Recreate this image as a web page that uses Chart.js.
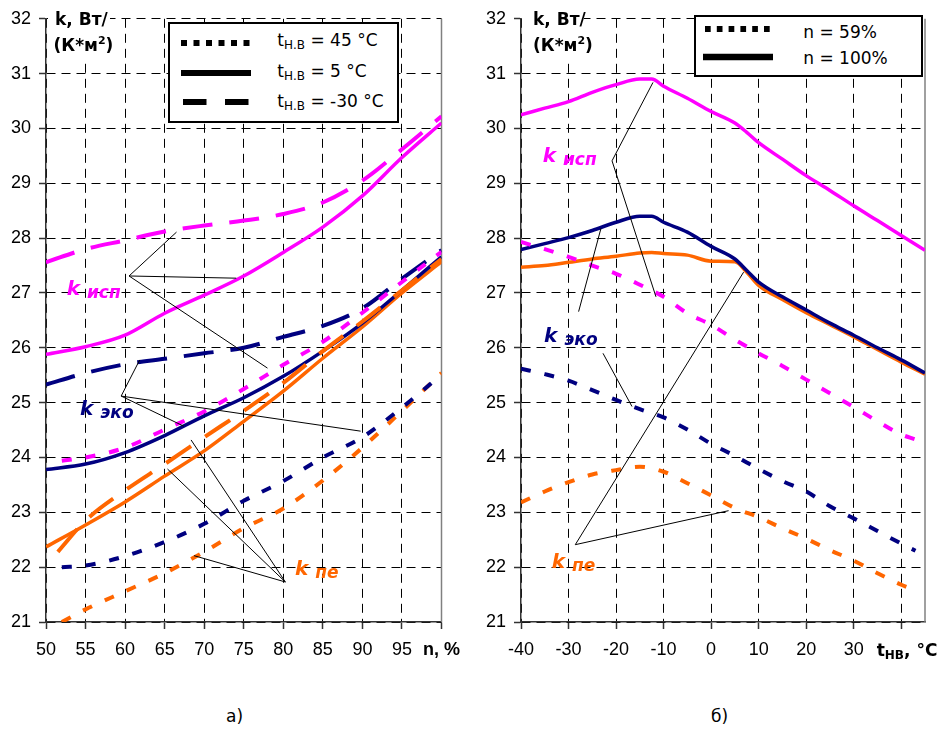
<!DOCTYPE html>
<html>
<head>
<meta charset="utf-8">
<script src="https://cdn.jsdelivr.net/npm/chart.js@4.4.0/dist/chart.umd.min.js"></script>
<style>
  html, body { margin: 0; padding: 0; background: #fff; }
  #page { position: relative; width: 941px; height: 733px; overflow: hidden;
          font-family: "DejaVu Sans", "Liberation Sans", Arial, sans-serif; color: #000; }
  canvas { position: absolute; top: 0; }
  .txt { position: absolute; white-space: nowrap; line-height: 1; }
  .sub { font-size: 12px; vertical-align: -3px; line-height: 0; }
  .sup { font-size: 11px; vertical-align: 7px; line-height: 0; }
  .ksub { font-size: 17px; vertical-align: -3px; line-height: 0; }
  .mask { position: absolute; background: #fff; }
  .legend { position: absolute; border: 2px solid #000; background: #fff; box-sizing: border-box; }
</style>
</head>
<body>
<div id="page">
  <canvas id="chartA" width="470" height="680" style="left:0"></canvas>
  <canvas id="chartB" width="471" height="680" style="left:470px"></canvas>
</div>
<script>
const FONT = '"Liberation Sans", Arial, sans-serif';
const MAGENTA = '#ff00ff', NAVY = '#000080', ORANGE = '#ff6600';
const DOT = [10, 14], DASH = [30, 17];

// --- panel a: k versus load n, %, at three outdoor temperatures ---
const nFull = [50, 55, 60, 65, 70, 75, 80, 85, 90, 95, 100];
const nDot = [52, 55, 60, 65, 70, 75, 80, 85, 90, 95, 100];
const nPeCold = [51.5, 55, 60, 65, 70, 75, 80, 85, 90, 95, 100];

// t = 45 °C (dotted)
const kIspHot = [23.94, 24.0, 24.18, 24.51, 24.84, 25.25, 25.69, 26.11, 26.64, 27.2, 27.75];
const kEkoHot = [22.0, 22.03, 22.2, 22.46, 22.79, 23.21, 23.57, 24.0, 24.37, 24.91, 25.51];
const kPeHot = [21.0, 21.23, 21.56, 21.89, 22.28, 22.71, 23.07, 23.58, 24.18, 24.85, 25.54];
// t = 5 °C (solid)
const kIspMild = [25.88, 26.02, 26.23, 26.63, 26.96, 27.31, 27.74, 28.2, 28.77, 29.47, 30.1];
const kEkoMild = [23.78, 23.88, 24.09, 24.4, 24.76, 25.09, 25.48, 25.94, 26.45, 27.05, 27.66];
const kPeMild = [22.37, 22.77, 23.19, 23.66, 24.12, 24.66, 25.21, 25.81, 26.38, 27.0, 27.57];
// t = -30 °C (dashed)
const kIspCold = [27.56, 27.8, 27.96, 28.12, 28.23, 28.32, 28.44, 28.65, 29.05, 29.62, 30.22];
const kEkoCold = [25.33, 25.54, 25.7, 25.8, 25.9, 26.0, 26.2, 26.4, 26.72, 27.26, 27.78];
const kPeCold = [22.28, 22.85, 23.4, 23.88, 24.37, 24.85, 25.36, 25.94, 26.48, 27.05, 27.62];

// --- panel b: k versus outdoor temperature at two loads ---
const tFull = [-40, -35, -30, -25, -20, -15, -12.5, -10, -5, 0, 5, 7.5, 10, 15, 20, 25, 30, 35, 40, 45];
const tPart = [-40, -35, -30, -25, -20, -15, -10, -5, 0, 5, 10, 15, 20, 25, 30, 35, 40, 43];

// n = 100% (solid)
const kIspFull = [30.25, 30.37, 30.49, 30.66, 30.8, 30.9, 30.9, 30.77, 30.55, 30.31, 30.1, 29.93, 29.74, 29.44, 29.14, 28.87, 28.59, 28.32, 28.05, 27.78];
const kEkoFull = [27.79, 27.9, 28.01, 28.14, 28.29, 28.4, 28.4, 28.29, 28.11, 27.85, 27.62, 27.41, 27.2, 26.93, 26.69, 26.45, 26.23, 26.0, 25.78, 25.54];
const kPeFull = [27.47, 27.5, 27.56, 27.62, 27.67, 27.73, 27.74, 27.72, 27.69, 27.58, 27.57, 27.38, 27.14, 26.88, 26.64, 26.42, 26.2, 25.97, 25.74, 25.52];
// n = 59% (dotted)
const kIspPart = [27.93, 27.8, 27.66, 27.5, 27.35, 27.15, 26.93, 26.63, 26.42, 26.15, 25.9, 25.67, 25.42, 25.17, 24.92, 24.66, 24.42, 24.33];
const kEkoPart = [25.62, 25.52, 25.4, 25.23, 25.05, 24.88, 24.73, 24.51, 24.25, 24.03, 23.79, 23.57, 23.38, 23.11, 22.89, 22.66, 22.43, 22.3];
const kPePart = [23.18, 23.38, 23.55, 23.69, 23.77, 23.83, 23.74, 23.53, 23.31, 23.08, 22.91, 22.71, 22.52, 22.31, 22.12, 21.89, 21.68, 21.58];

// leader lines from the k labels to their curves, in data units
const leadersA = [
  [[60.5, 27.31], [66.5, 28.11]], [[60.5, 27.31], [74.05, 27.27]], [[60.5, 27.31], [78.0, 25.63]],
  [[59.5, 25.12], [61.85, 25.78]], [[59.5, 25.12], [67.43, 24.57]], [[59.5, 25.12], [89.78, 24.48]],
  [[80.26, 21.73], [68.34, 24.32]], [[80.26, 21.73], [65.36, 23.79]], [[80.26, 21.73], [68.71, 22.21]]
];
const leadersB = [
  [[-20.85, 29.41], [-12.23, 30.84]], [[-20.85, 29.41], [-11.6, 26.93]],
  [[-27.88, 26.66], [-23.17, 28.18]], [[-22.75, 25.9], [-16.65, 24.93]],
  [[-28.58, 22.41], [6.83, 27.38]], [[-28.58, 22.41], [3.68, 23.03]]
];
const leaderSets = { chartA: leadersA, chartB: leadersB };

const pts = (xs, ys) => xs.map((x, i) => ({ x, y: ys[i] }));

function line(xs, ys, color, dash) {
  return {
    data: pts(xs, ys),
    borderColor: color,
    borderWidth: dash.length ? 4 : 3.5,
    borderDash: dash,
    borderCapStyle: 'butt',
    pointRadius: 0,
    cubicInterpolationMode: 'monotone',
    fill: false
  };
}

const panelMarks = {
  id: 'panelMarks',
  beforeDatasetsDraw(chart) {
    // solid grey right edge of the plot frame
    const { ctx, chartArea: a } = chart;
    ctx.save();
    ctx.strokeStyle = '#808080';
    ctx.lineWidth = 1.5;
    ctx.beginPath();
    ctx.moveTo(a.right, a.top);
    ctx.lineTo(a.right, a.bottom);
    ctx.stroke();
    ctx.restore();
  },
  afterDatasetsDraw(chart) {
    const { ctx, scales: { x, y } } = chart;
    ctx.save();
    ctx.strokeStyle = '#000';
    ctx.lineWidth = 1;
    leaderSets[chart.canvas.id].forEach(seg => {
      ctx.beginPath();
      ctx.moveTo(x.getPixelForValue(seg[0][0]), y.getPixelForValue(seg[0][1]));
      ctx.lineTo(x.getPixelForValue(seg[1][0]), y.getPixelForValue(seg[1][1]));
      ctx.stroke();
    });
    ctx.restore();
  }
};

// dashed grid, solid short ticks, solid axis line
const gridOpts = () => ({
  color: '#000', lineWidth: 1,
  tickLength: 7, tickColor: '#333', tickWidth: 1.5, tickBorderDash: []
});
const borderOpts = () => ({ color: '#333', width: 1.5, dash: [9, 6] });

function yAxis(width) {
  return {
    type: 'linear', min: 21, max: 32,
    ticks: { stepSize: 1, autoSkip: false, padding: 8, color: '#000', font: { family: FONT, size: 18 } },
    grid: gridOpts(), border: borderOpts(),
    afterFit: s => { s.width = width; }
  };
}

function xAxis(min, max, ticks) {
  return {
    type: 'linear', min, max,
    ticks: Object.assign({ autoSkip: false, maxRotation: 0, padding: 10, color: '#000',
                           font: { family: FONT, size: 18 } }, ticks),
    grid: gridOpts(), border: borderOpts(),
    afterFit: s => { s.height = 58; }
  };
}

const baseOpts = (pad, scales) => ({
  responsive: false,
  animation: false,
  layout: { padding: pad },
  plugins: { legend: { display: false }, tooltip: { enabled: false } },
  scales
});

new Chart(document.getElementById('chartA'), {
  type: 'line',
  data: { datasets: [
    line(nDot, kIspHot, MAGENTA, DOT),
    line(nDot, kEkoHot, NAVY, DOT),
    line(nDot, kPeHot, ORANGE, DOT),
    line(nFull, kIspCold, MAGENTA, DASH),
    line(nFull, kEkoCold, NAVY, DASH),
    line(nPeCold, kPeCold, ORANGE, DASH),
    line(nFull, kIspMild, MAGENTA, []),
    line(nFull, kEkoMild, NAVY, []),
    line(nFull, kPeMild, ORANGE, [])
  ] },
  options: baseOpts({ top: 15, right: 21, left: 0, bottom: 0 }, {
    x: xAxis(50, 100, {
      stepSize: 5,
      font: c => ({ family: FONT, size: 18, weight: c.tick && c.tick.value === 100 ? 'bold' : 'normal' }),
      callback: v => v === 100 ? 'n, %' : v
    }),
    y: yAxis(46)
  }),
  plugins: [panelMarks]
});

new Chart(document.getElementById('chartB'), {
  type: 'line',
  data: { datasets: [
    line(tPart, kIspPart, MAGENTA, DOT),
    line(tPart, kEkoPart, NAVY, DOT),
    line(tPart, kPePart, ORANGE, DOT),
    line(tFull, kIspFull, MAGENTA, []),
    line(tFull, kEkoFull, NAVY, []),
    line(tFull, kPeFull, ORANGE, [])
  ] },
  options: baseOpts({ top: 15, right: 16, left: 0, bottom: 0 }, {
    x: xAxis(-40, 45, {
      stepSize: 10, includeBounds: false,
      // the last slot carries the axis title instead of a number
      callback: v => v === 40 ? '' : v
    }),
    y: yAxis(51)
  }),
  plugins: [panelMarks]
});

// --- text overlays ---
const page = document.getElementById('page');

function box(cls, x, y, w, h) {
  const el = document.createElement('div');
  el.className = cls;
  Object.assign(el.style, { left: x + 'px', top: y + 'px', width: w + 'px', height: h + 'px' });
  page.appendChild(el);
  return el;
}

function put(html, x, base, size, style) {
  const el = document.createElement('div');
  el.className = 'txt';
  el.innerHTML = html;
  el.style.left = x + 'px';
  el.style.top = (base - 0.846 * size) + 'px';
  el.style.fontSize = size + 'px';
  Object.assign(el.style, style || {});
  page.appendChild(el);
}

function sample(x, y, w, thick, dash) {
  const svg = document.createElementNS('http://www.w3.org/2000/svg', 'svg');
  svg.setAttribute('width', w);
  svg.setAttribute('height', 10);
  svg.style.cssText = 'position:absolute;left:' + x + 'px;top:' + (y - 5) + 'px';
  const ln = document.createElementNS('http://www.w3.org/2000/svg', 'line');
  ln.setAttribute('x1', 0); ln.setAttribute('x2', w);
  ln.setAttribute('y1', 5); ln.setAttribute('y2', 5);
  ln.setAttribute('stroke', '#000');
  ln.setAttribute('stroke-width', thick);
  if (dash) ln.setAttribute('stroke-dasharray', dash);
  svg.appendChild(ln);
  page.appendChild(svg);
}

const bold = { fontWeight: 'bold' };

// unit labels on the y axes
[[48, 55, 53.5], [522, 533, 533]].forEach(([mx, x1, x2]) => {
  box('mask', mx, 4, 62, 54);
  put('k, Вт/', x1, 25, 17, bold);
  put('(К*м<span class="sup">2</span>)', x2, 51.5, 17, bold);
});

// legend, panel a
box('legend', 168, 22, 231, 101);
sample(180.7, 42.7, 70, 6, '6 6.5');
sample(180.7, 73.3, 70, 6, null);
sample(182.7, 102.3, 66, 6, '23.5 18.5');
const legendTempsA = ['45', '5', '-30'];
[46.7, 77.3, 107.3].forEach((b, i) => {
  put('t<span class="sub">Н.В</span> = ' + legendTempsA[i] + ' °C', 277.3, b, 17);
});

// legend, panel b
box('legend', 694, 15, 229, 62);
sample(705, 29, 66, 6, '5.7 6.1');
sample(703.3, 56.5, 70, 6.5, null);
const legendLoadsB = ['59%', '100%'];
[38, 64].forEach((b, i) => put('n = ' + legendLoadsB[i], 803.3, b, 17));

// curve family labels
const kStyle = c => ({ color: c, fontWeight: 'bold', fontStyle: 'italic' });
put('k <span class="ksub">исп</span>', 66.7, 295, 20, kStyle(MAGENTA));
put('k <span class="ksub">эко</span>', 80, 415, 20, kStyle(NAVY));
put('k <span class="ksub">пе</span>', 295, 575, 20, kStyle(ORANGE));
put('k <span class="ksub">исп</span>', 542.7, 162, 20, kStyle(MAGENTA));
put('k <span class="ksub">эко</span>', 544, 341.7, 20, kStyle(NAVY));
put('k <span class="ksub">пе</span>', 551.7, 568, 20, kStyle(ORANGE));

// x title of panel b
put('t<span class="sub" style="font-weight:bold">НВ</span>, °C', 876.7, 656, 17, bold);

// panel captions
put('а)', 226, 722, 17);
put('б)', 711, 722, 17);
</script>
</body>
</html>
